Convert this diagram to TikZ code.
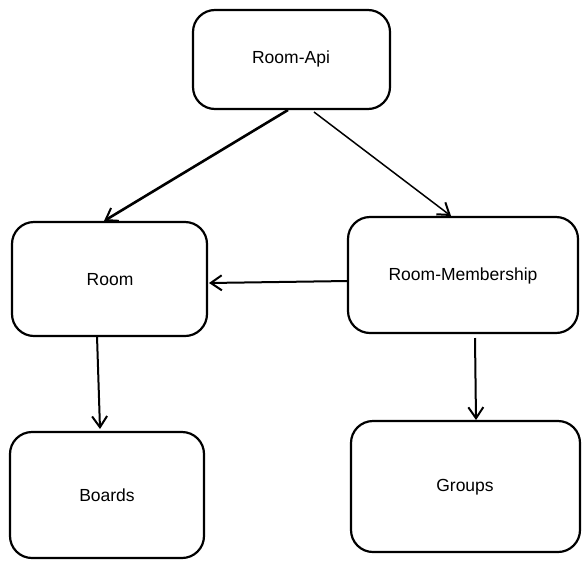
\documentclass[tikz,border=0pt]{standalone}
\usepackage{fontspec}
\setmainfont{Liberation Sans}
\usetikzlibrary{arrows.meta}
\begin{document}
\begin{tikzpicture}[x=1pt,y=-1pt,
  box/.style={draw=black,line width=2.2pt,rounded corners=22pt,fill=white},
  lbl/.style={font=\fontsize{17.5}{20}\selectfont},
  conn/.style={draw=black,line width=2pt,-{Straight Barb[length=11pt,width=15pt,line width=2pt]}}]
\useasboundingbox (0,0) rectangle (588,568);
\fill[white] (0,0) rectangle (588,568);
\draw[box] (193,10) rectangle (390,109);
\draw[box] (12,222) rectangle (207,336);
\draw[box] (348,217) rectangle (578,333);
\draw[box] (10,432) rectangle (204,558);
\draw[box] (351,421) rectangle (580,552);
\node[lbl] (api) at (291,59) {Room-Api};
\node[lbl] (room) at (110,280) {Room};
\node[lbl] (mem) at (463,276) {Room-Membership};
\node[lbl] (boards) at (107,495) {Boards};
\node[lbl] (groups) at (465,487) {Groups};
\coordinate (a1) at (288,110);
\coordinate (a2) at (314,112);
\coordinate (r1) at (104,221);
\coordinate (m1) at (451,216);
\coordinate (m2) at (348,281);
\coordinate (r2) at (209,283);
\coordinate (r3) at (97,336);
\coordinate (b1) at (100,429);
\coordinate (m3) at (475,338);
\coordinate (g1) at (476,420);
\draw[conn,line width=2.6pt] (a1) -- (r1);
\draw[conn,line width=1.5pt] (a2) -- (m1);
\draw[conn] (m2) -- (r2);
\draw[conn] (r3) -- (b1);
\draw[conn] (m3) -- (g1);
\end{tikzpicture}
\end{document}
